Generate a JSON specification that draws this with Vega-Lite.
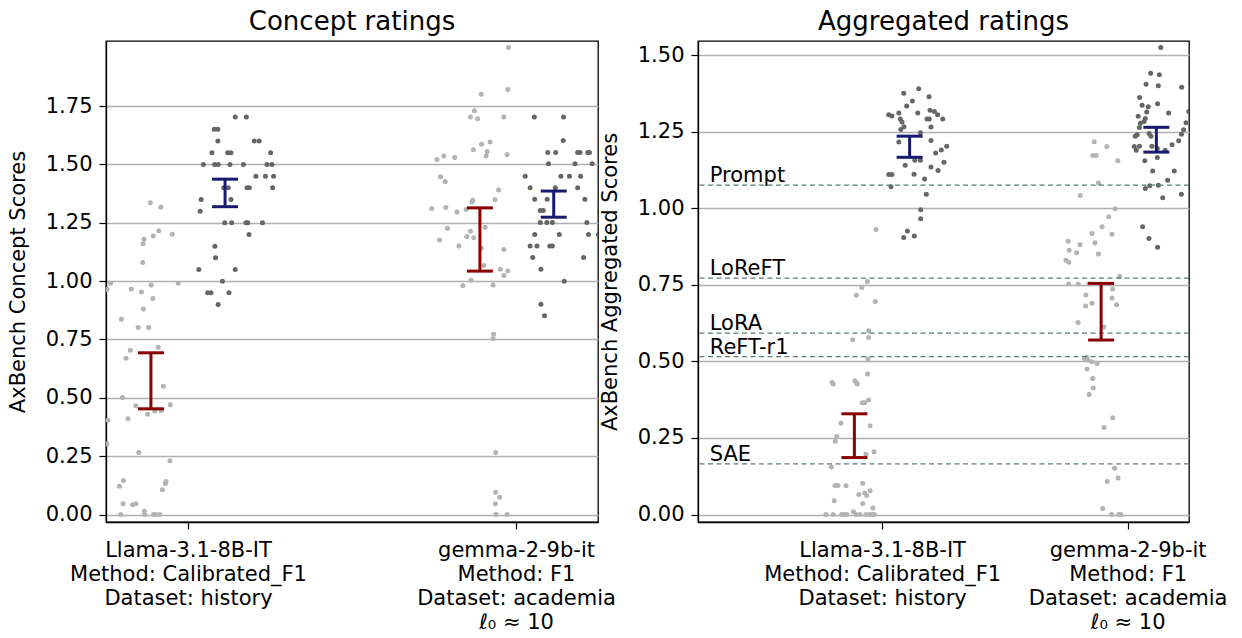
{
  "$schema": "https://vega.github.io/schema/vega-lite/v6.json",
  "padding": {"left": 6, "top": 8, "right": 5, "bottom": 5},
  "spacing": 100,
  "bounds": "flush",
  "config": {
    "font": "DejaVu Sans",
    "view": {"stroke": "black", "strokeWidth": 1.3},
    "title": {"fontSize": 26, "fontWeight": "normal", "color": "black", "anchor": "middle", "offset": 6},
    "axis": {
      "labelFont": "DejaVu Sans", "titleFont": "DejaVu Sans",
      "labelFontSize": 21, "titleFontSize": 21, "titleFontWeight": "normal",
      "labelColor": "black", "titleColor": "black",
      "tickColor": "black", "tickSize": 7, "tickWidth": 1.2,
      "domainColor": "black", "domainWidth": 1.3,
      "labelPadding": 4, "labelLimit": 0
    }
  },
  "datasets": {
    "conceptPts": [
      {"x": -0.115, "y": 1.336, "s": "l"}, {"x": -0.083, "y": 1.317, "s": "l"}, {"x": -0.089, "y": 1.216, "s": "l"}, {"x": -0.106, "y": 1.193, "s": "l"}, {"x": -0.048, "y": 1.201, "s": "l"}, {"x": -0.134, "y": 1.18, "s": "l"}, {"x": -0.137, "y": 1.16, "s": "l"}, {"x": -0.138, "y": 1.08, "s": "l"}, {"x": -0.236, "y": 0.991, "s": "l"}, {"x": -0.247, "y": 0.964, "s": "l"}, {"x": -0.173, "y": 0.966, "s": "l"}, {"x": -0.142, "y": 0.953, "s": "l"}, {"x": -0.112, "y": 0.984, "s": "l"}, {"x": -0.03, "y": 0.991, "s": "l"}, {"x": -0.107, "y": 0.926, "s": "l"}, {"x": -0.136, "y": 0.881, "s": "l"}, {"x": -0.203, "y": 0.837, "s": "l"}, {"x": -0.152, "y": 0.801, "s": "l"}, {"x": -0.12, "y": 0.801, "s": "l"}, {"x": -0.091, "y": 0.717, "s": "l"}, {"x": -0.176, "y": 0.704, "s": "l"}, {"x": -0.189, "y": 0.67, "s": "l"}, {"x": -0.075, "y": 0.55, "s": "l"}, {"x": -0.2, "y": 0.501, "s": "l"}, {"x": -0.159, "y": 0.466, "s": "l"}, {"x": -0.123, "y": 0.43, "s": "l"}, {"x": -0.101, "y": 0.444, "s": "l"}, {"x": -0.082, "y": 0.446, "s": "l"}, {"x": -0.054, "y": 0.47, "s": "l"}, {"x": -0.244, "y": 0.404, "s": "l"}, {"x": -0.183, "y": 0.41, "s": "l"}, {"x": -0.247, "y": 0.303, "s": "l"}, {"x": -0.15, "y": 0.266, "s": "l"}, {"x": -0.055, "y": 0.23, "s": "l"}, {"x": -0.197, "y": 0.146, "s": "l"}, {"x": -0.209, "y": 0.121, "s": "l"}, {"x": -0.067, "y": 0.141, "s": "l"}, {"x": -0.069, "y": 0.133, "s": "l"}, {"x": -0.078, "y": 0.106, "s": "l"}, {"x": -0.198, "y": 0.046, "s": "l"}, {"x": -0.169, "y": 0.042, "s": "l"}, {"x": -0.159, "y": 0.046, "s": "l"}, {"x": -0.205, "y": 0.0, "s": "l"}, {"x": -0.133, "y": 0.014, "s": "l"}, {"x": -0.132, "y": 0.0, "s": "l"}, {"x": -0.105, "y": 0.0, "s": "l"}, {"x": -0.098, "y": 0.0, "s": "l"}, {"x": -0.086, "y": 0.0, "s": "l"},
      {"x": 0.144, "y": 1.703, "s": "d"}, {"x": 0.178, "y": 1.703, "s": "d"}, {"x": 0.08, "y": 1.651, "s": "d"}, {"x": 0.091, "y": 1.651, "s": "d"}, {"x": 0.091, "y": 1.601, "s": "d"}, {"x": 0.202, "y": 1.601, "s": "d"}, {"x": 0.217, "y": 1.601, "s": "d"}, {"x": 0.073, "y": 1.55, "s": "d"}, {"x": 0.121, "y": 1.55, "s": "d"}, {"x": 0.131, "y": 1.55, "s": "d"}, {"x": 0.252, "y": 1.55, "s": "d"}, {"x": 0.047, "y": 1.5, "s": "d"}, {"x": 0.081, "y": 1.5, "s": "d"}, {"x": 0.092, "y": 1.5, "s": "d"}, {"x": 0.128, "y": 1.5, "s": "d"}, {"x": 0.169, "y": 1.5, "s": "d"}, {"x": 0.241, "y": 1.5, "s": "d"}, {"x": 0.256, "y": 1.5, "s": "d"}, {"x": 0.207, "y": 1.45, "s": "d"}, {"x": 0.236, "y": 1.45, "s": "d"}, {"x": 0.261, "y": 1.45, "s": "d"}, {"x": 0.109, "y": 1.4, "s": "d"}, {"x": 0.123, "y": 1.4, "s": "d"}, {"x": 0.18, "y": 1.4, "s": "d"}, {"x": 0.187, "y": 1.4, "s": "d"}, {"x": 0.258, "y": 1.4, "s": "d"}, {"x": 0.04, "y": 1.35, "s": "d"}, {"x": 0.131, "y": 1.35, "s": "d"}, {"x": 0.037, "y": 1.3, "s": "d"}, {"x": 0.112, "y": 1.25, "s": "d"}, {"x": 0.133, "y": 1.25, "s": "d"}, {"x": 0.177, "y": 1.25, "s": "d"}, {"x": 0.182, "y": 1.25, "s": "d"}, {"x": 0.227, "y": 1.25, "s": "d"}, {"x": 0.186, "y": 1.2, "s": "d"}, {"x": 0.082, "y": 1.15, "s": "d"}, {"x": 0.084, "y": 1.1, "s": "d"}, {"x": 0.033, "y": 1.05, "s": "d"}, {"x": 0.144, "y": 1.05, "s": "d"}, {"x": 0.105, "y": 1.0, "s": "d"}, {"x": 0.06, "y": 0.95, "s": "d"}, {"x": 0.07, "y": 0.95, "s": "d"}, {"x": 0.125, "y": 0.95, "s": "d"}, {"x": 0.092, "y": 0.9, "s": "d"},
      {"x": 0.977, "y": 2.001, "s": "l"}, {"x": 0.975, "y": 1.821, "s": "l"}, {"x": 0.894, "y": 1.801, "s": "l"}, {"x": 0.873, "y": 1.73, "s": "l"}, {"x": 0.861, "y": 1.703, "s": "l"}, {"x": 0.883, "y": 1.696, "s": "l"}, {"x": 0.963, "y": 1.703, "s": "l"}, {"x": 0.895, "y": 1.587, "s": "l"}, {"x": 0.921, "y": 1.596, "s": "l"}, {"x": 0.87, "y": 1.563, "s": "l"}, {"x": 0.912, "y": 1.556, "s": "l"}, {"x": 0.909, "y": 1.536, "s": "l"}, {"x": 0.973, "y": 1.543, "s": "l"}, {"x": 0.759, "y": 1.521, "s": "l"}, {"x": 0.78, "y": 1.536, "s": "l"}, {"x": 0.813, "y": 1.53, "s": "l"}, {"x": 0.77, "y": 1.447, "s": "l"}, {"x": 0.784, "y": 1.427, "s": "l"}, {"x": 0.947, "y": 1.391, "s": "l"}, {"x": 0.936, "y": 1.35, "s": "l"}, {"x": 0.868, "y": 1.347, "s": "l"}, {"x": 0.865, "y": 1.339, "s": "l"}, {"x": 0.743, "y": 1.311, "s": "l"}, {"x": 0.786, "y": 1.316, "s": "l"}, {"x": 0.82, "y": 1.296, "s": "l"}, {"x": 0.848, "y": 1.307, "s": "l"}, {"x": 0.906, "y": 1.231, "s": "l"}, {"x": 0.791, "y": 1.227, "s": "l"}, {"x": 0.861, "y": 1.214, "s": "l"}, {"x": 0.767, "y": 1.176, "s": "l"}, {"x": 0.85, "y": 1.191, "s": "l"}, {"x": 0.871, "y": 1.186, "s": "l"}, {"x": 0.826, "y": 1.151, "s": "l"}, {"x": 0.894, "y": 1.141, "s": "l"}, {"x": 0.963, "y": 1.136, "s": "l"}, {"x": 0.902, "y": 1.067, "s": "l"}, {"x": 0.952, "y": 1.051, "s": "l"}, {"x": 0.975, "y": 1.044, "s": "l"}, {"x": 0.963, "y": 1.024, "s": "l"}, {"x": 0.863, "y": 1.004, "s": "l"}, {"x": 0.838, "y": 0.98, "s": "l"}, {"x": 0.93, "y": 0.984, "s": "l"}, {"x": 0.932, "y": 0.773, "s": "l"}, {"x": 0.93, "y": 0.753, "s": "l"}, {"x": 0.938, "y": 0.266, "s": "l"}, {"x": 0.938, "y": 0.096, "s": "l"}, {"x": 0.95, "y": 0.074, "s": "l"}, {"x": 0.937, "y": 0.046, "s": "l"}, {"x": 0.939, "y": 0.0, "s": "l"}, {"x": 0.973, "y": 0.0, "s": "l"},
      {"x": 1.056, "y": 1.703, "s": "d"}, {"x": 1.145, "y": 1.703, "s": "d"}, {"x": 1.144, "y": 1.603, "s": "d"}, {"x": 1.097, "y": 1.551, "s": "d"}, {"x": 1.121, "y": 1.551, "s": "d"}, {"x": 1.188, "y": 1.551, "s": "d"}, {"x": 1.195, "y": 1.551, "s": "d"}, {"x": 1.219, "y": 1.551, "s": "d"}, {"x": 1.224, "y": 1.551, "s": "d"}, {"x": 1.099, "y": 1.503, "s": "d"}, {"x": 1.18, "y": 1.503, "s": "d"}, {"x": 1.232, "y": 1.503, "s": "d"}, {"x": 1.028, "y": 1.45, "s": "d"}, {"x": 1.137, "y": 1.45, "s": "d"}, {"x": 1.163, "y": 1.45, "s": "d"}, {"x": 1.197, "y": 1.45, "s": "d"}, {"x": 1.043, "y": 1.4, "s": "d"}, {"x": 1.12, "y": 1.4, "s": "d"}, {"x": 1.188, "y": 1.4, "s": "d"}, {"x": 1.057, "y": 1.351, "s": "d"}, {"x": 1.095, "y": 1.351, "s": "d"}, {"x": 1.21, "y": 1.351, "s": "d"}, {"x": 1.074, "y": 1.303, "s": "d"}, {"x": 1.083, "y": 1.303, "s": "d"}, {"x": 1.255, "y": 1.3, "s": "d"}, {"x": 1.074, "y": 1.251, "s": "d"}, {"x": 1.094, "y": 1.251, "s": "d"}, {"x": 1.111, "y": 1.251, "s": "d"}, {"x": 1.216, "y": 1.251, "s": "d"}, {"x": 1.057, "y": 1.2, "s": "d"}, {"x": 1.132, "y": 1.2, "s": "d"}, {"x": 1.221, "y": 1.2, "s": "d"}, {"x": 1.251, "y": 1.2, "s": "d"}, {"x": 1.043, "y": 1.151, "s": "d"}, {"x": 1.064, "y": 1.151, "s": "d"}, {"x": 1.103, "y": 1.151, "s": "d"}, {"x": 1.111, "y": 1.151, "s": "d"}, {"x": 1.051, "y": 1.101, "s": "d"}, {"x": 1.206, "y": 1.101, "s": "d"}, {"x": 1.076, "y": 1.051, "s": "d"}, {"x": 1.147, "y": 1.0, "s": "d"}, {"x": 1.076, "y": 0.901, "s": "d"}, {"x": 1.087, "y": 0.852, "s": "d"}
    ],
    "aggPts": [
      {"x": -0.025, "y": 0.931, "s": "l"}, {"x": -0.06, "y": 0.761, "s": "l"}, {"x": -0.083, "y": 0.742, "s": "l"}, {"x": -0.105, "y": 0.716, "s": "l"}, {"x": -0.028, "y": 0.696, "s": "l"}, {"x": -0.055, "y": 0.6, "s": "l"}, {"x": -0.055, "y": 0.578, "s": "l"}, {"x": -0.12, "y": 0.571, "s": "l"}, {"x": -0.058, "y": 0.508, "s": "l"}, {"x": -0.059, "y": 0.459, "s": "l"}, {"x": -0.204, "y": 0.431, "s": "l"}, {"x": -0.199, "y": 0.426, "s": "l"}, {"x": -0.111, "y": 0.437, "s": "l"}, {"x": -0.104, "y": 0.43, "s": "l"}, {"x": -0.101, "y": 0.426, "s": "l"}, {"x": -0.081, "y": 0.365, "s": "l"}, {"x": -0.071, "y": 0.365, "s": "l"}, {"x": -0.055, "y": 0.374, "s": "l"}, {"x": -0.168, "y": 0.298, "s": "l"}, {"x": -0.049, "y": 0.29, "s": "l"}, {"x": -0.185, "y": 0.255, "s": "l"}, {"x": -0.191, "y": 0.239, "s": "l"}, {"x": -0.066, "y": 0.197, "s": "l"}, {"x": -0.033, "y": 0.205, "s": "l"}, {"x": -0.207, "y": 0.155, "s": "l"}, {"x": -0.192, "y": 0.095, "s": "l"}, {"x": -0.18, "y": 0.095, "s": "l"}, {"x": -0.147, "y": 0.094, "s": "l"}, {"x": -0.079, "y": 0.102, "s": "l"}, {"x": -0.095, "y": 0.065, "s": "l"}, {"x": -0.071, "y": 0.07, "s": "l"}, {"x": -0.063, "y": 0.062, "s": "l"}, {"x": -0.049, "y": 0.078, "s": "l"}, {"x": -0.195, "y": 0.045, "s": "l"}, {"x": -0.079, "y": 0.036, "s": "l"}, {"x": -0.038, "y": 0.021, "s": "l"}, {"x": -0.229, "y": 0.0, "s": "l"}, {"x": -0.199, "y": 0.0, "s": "l"}, {"x": -0.165, "y": 0.0, "s": "l"}, {"x": -0.154, "y": 0.0, "s": "l"}, {"x": -0.144, "y": 0.0, "s": "l"}, {"x": -0.117, "y": 0.009, "s": "l"}, {"x": -0.106, "y": 0.0, "s": "l"}, {"x": -0.09, "y": 0.0, "s": "l"}, {"x": -0.066, "y": 0.0, "s": "l"}, {"x": -0.052, "y": 0.0, "s": "l"}, {"x": -0.041, "y": 0.0, "s": "l"}, {"x": -0.032, "y": 0.0, "s": "l"},
      {"x": 0.149, "y": 1.391, "s": "d"}, {"x": 0.088, "y": 1.376, "s": "d"}, {"x": 0.191, "y": 1.365, "s": "d"}, {"x": 0.123, "y": 1.351, "s": "d"}, {"x": 0.1, "y": 1.335, "s": "d"}, {"x": 0.027, "y": 1.306, "s": "d"}, {"x": 0.04, "y": 1.302, "s": "d"}, {"x": 0.068, "y": 1.312, "s": "d"}, {"x": 0.145, "y": 1.312, "s": "d"}, {"x": 0.195, "y": 1.321, "s": "d"}, {"x": 0.213, "y": 1.317, "s": "d"}, {"x": 0.226, "y": 1.306, "s": "d"}, {"x": 0.247, "y": 1.292, "s": "d"}, {"x": 0.074, "y": 1.292, "s": "d"}, {"x": 0.192, "y": 1.292, "s": "d"}, {"x": 0.183, "y": 1.292, "s": "d"}, {"x": 0.081, "y": 1.282, "s": "d"}, {"x": 0.089, "y": 1.267, "s": "d"}, {"x": 0.076, "y": 1.258, "s": "d"}, {"x": 0.199, "y": 1.266, "s": "d"}, {"x": 0.156, "y": 1.247, "s": "d"}, {"x": 0.068, "y": 1.217, "s": "d"}, {"x": 0.199, "y": 1.222, "s": "d"}, {"x": 0.263, "y": 1.203, "s": "d"}, {"x": 0.241, "y": 1.191, "s": "d"}, {"x": 0.218, "y": 1.181, "s": "d"}, {"x": 0.133, "y": 1.157, "s": "d"}, {"x": 0.156, "y": 1.157, "s": "d"}, {"x": 0.252, "y": 1.151, "s": "d"}, {"x": 0.094, "y": 1.141, "s": "d"}, {"x": 0.199, "y": 1.135, "s": "d"}, {"x": 0.228, "y": 1.124, "s": "d"}, {"x": 0.027, "y": 1.111, "s": "d"}, {"x": 0.04, "y": 1.111, "s": "d"}, {"x": 0.13, "y": 1.112, "s": "d"}, {"x": 0.173, "y": 1.096, "s": "d"}, {"x": 0.036, "y": 1.071, "s": "d"}, {"x": 0.18, "y": 1.046, "s": "d"}, {"x": 0.157, "y": 0.996, "s": "d"}, {"x": 0.157, "y": 0.966, "s": "d"}, {"x": 0.103, "y": 0.926, "s": "d"}, {"x": 0.088, "y": 0.905, "s": "d"}, {"x": 0.131, "y": 0.91, "s": "d"},
      {"x": 0.864, "y": 1.218, "s": "l"}, {"x": 0.915, "y": 1.202, "s": "l"}, {"x": 0.858, "y": 1.173, "s": "l"}, {"x": 0.872, "y": 1.173, "s": "l"}, {"x": 0.96, "y": 1.156, "s": "l"}, {"x": 0.881, "y": 1.083, "s": "l"}, {"x": 0.807, "y": 1.042, "s": "l"}, {"x": 0.949, "y": 0.999, "s": "l"}, {"x": 0.923, "y": 0.973, "s": "l"}, {"x": 0.896, "y": 0.94, "s": "l"}, {"x": 0.936, "y": 0.916, "s": "l"}, {"x": 0.855, "y": 0.918, "s": "l"}, {"x": 0.867, "y": 0.888, "s": "l"}, {"x": 0.758, "y": 0.893, "s": "l"}, {"x": 0.806, "y": 0.881, "s": "l"}, {"x": 0.762, "y": 0.863, "s": "l"}, {"x": 0.792, "y": 0.855, "s": "l"}, {"x": 0.881, "y": 0.851, "s": "l"}, {"x": 0.749, "y": 0.831, "s": "l"}, {"x": 0.76, "y": 0.824, "s": "l"}, {"x": 0.968, "y": 0.778, "s": "l"}, {"x": 0.76, "y": 0.753, "s": "l"}, {"x": 0.799, "y": 0.753, "s": "l"}, {"x": 0.841, "y": 0.753, "s": "l"}, {"x": 0.83, "y": 0.717, "s": "l"}, {"x": 0.855, "y": 0.69, "s": "l"}, {"x": 0.829, "y": 0.681, "s": "l"}, {"x": 0.939, "y": 0.737, "s": "l"}, {"x": 0.936, "y": 0.707, "s": "l"}, {"x": 0.955, "y": 0.685, "s": "l"}, {"x": 0.798, "y": 0.627, "s": "l"}, {"x": 0.903, "y": 0.613, "s": "l"}, {"x": 0.824, "y": 0.51, "s": "l"}, {"x": 0.833, "y": 0.514, "s": "l"}, {"x": 0.839, "y": 0.504, "s": "l"}, {"x": 0.854, "y": 0.499, "s": "l"}, {"x": 0.875, "y": 0.493, "s": "l"}, {"x": 0.835, "y": 0.475, "s": "l"}, {"x": 0.858, "y": 0.444, "s": "l"}, {"x": 0.86, "y": 0.413, "s": "l"}, {"x": 0.843, "y": 0.392, "s": "l"}, {"x": 0.939, "y": 0.316, "s": "l"}, {"x": 0.904, "y": 0.284, "s": "l"}, {"x": 0.947, "y": 0.151, "s": "l"}, {"x": 0.961, "y": 0.119, "s": "l"}, {"x": 0.917, "y": 0.108, "s": "l"}, {"x": 0.898, "y": 0.02, "s": "l"}, {"x": 0.935, "y": 0.0, "s": "l"}, {"x": 0.964, "y": 0.0, "s": "l"}, {"x": 0.972, "y": 0.0, "s": "l"},
      {"x": 1.135, "y": 1.526, "s": "d"}, {"x": 1.094, "y": 1.442, "s": "d"}, {"x": 1.129, "y": 1.437, "s": "d"}, {"x": 1.075, "y": 1.406, "s": "d"}, {"x": 1.125, "y": 1.401, "s": "d"}, {"x": 1.22, "y": 1.396, "s": "d"}, {"x": 1.049, "y": 1.362, "s": "d"}, {"x": 1.059, "y": 1.337, "s": "d"}, {"x": 1.084, "y": 1.332, "s": "d"}, {"x": 1.122, "y": 1.342, "s": "d"}, {"x": 1.078, "y": 1.315, "s": "d"}, {"x": 1.167, "y": 1.312, "s": "d"}, {"x": 1.043, "y": 1.301, "s": "d"}, {"x": 1.072, "y": 1.294, "s": "d"}, {"x": 1.249, "y": 1.317, "s": "d"}, {"x": 1.067, "y": 1.284, "s": "d"}, {"x": 1.052, "y": 1.278, "s": "d"}, {"x": 1.048, "y": 1.264, "s": "d"}, {"x": 1.238, "y": 1.28, "s": "d"}, {"x": 1.228, "y": 1.257, "s": "d"}, {"x": 1.219, "y": 1.242, "s": "d"}, {"x": 1.031, "y": 1.236, "s": "d"}, {"x": 1.039, "y": 1.241, "s": "d"}, {"x": 1.088, "y": 1.245, "s": "d"}, {"x": 1.095, "y": 1.236, "s": "d"}, {"x": 1.208, "y": 1.221, "s": "d"}, {"x": 1.181, "y": 1.208, "s": "d"}, {"x": 1.027, "y": 1.202, "s": "d"}, {"x": 1.048, "y": 1.203, "s": "d"}, {"x": 1.035, "y": 1.19, "s": "d"}, {"x": 1.099, "y": 1.203, "s": "d"}, {"x": 1.121, "y": 1.196, "s": "d"}, {"x": 1.153, "y": 1.19, "s": "d"}, {"x": 1.07, "y": 1.156, "s": "d"}, {"x": 1.121, "y": 1.166, "s": "d"}, {"x": 1.102, "y": 1.122, "s": "d"}, {"x": 1.19, "y": 1.122, "s": "d"}, {"x": 1.163, "y": 1.092, "s": "d"}, {"x": 1.125, "y": 1.076, "s": "d"}, {"x": 1.09, "y": 1.074, "s": "d"}, {"x": 1.072, "y": 1.065, "s": "d"}, {"x": 1.219, "y": 1.046, "s": "d"}, {"x": 1.143, "y": 1.035, "s": "d"}, {"x": 1.061, "y": 0.94, "s": "d"}, {"x": 1.087, "y": 0.902, "s": "d"}, {"x": 1.122, "y": 0.873, "s": "d"}
    ],
    "conceptBars": [
      {"x": -0.113, "lo": 0.453, "hi": 0.693, "s": "r"},
      {"x": 0.113, "lo": 1.319, "hi": 1.437, "s": "b"},
      {"x": 0.89, "lo": 1.043, "hi": 1.314, "s": "r"},
      {"x": 1.115, "lo": 1.274, "hi": 1.386, "s": "b"}
    ],
    "aggBars": [
      {"x": -0.113, "lo": 0.186, "hi": 0.329, "s": "r"},
      {"x": 0.112, "lo": 1.167, "hi": 1.236, "s": "b"},
      {"x": 0.892, "lo": 0.57, "hi": 0.755, "s": "r"},
      {"x": 1.117, "lo": 1.184, "hi": 1.265, "s": "b"}
    ],
    "baselines": [
      {"method": "Prompt", "y": 1.076},
      {"method": "LoReFT", "y": 0.772},
      {"method": "LoRA", "y": 0.5925},
      {"method": "ReFT-r1", "y": 0.516},
      {"method": "SAE", "y": 0.1656}
    ]
  },
  "hconcat": [
    {
      "width": 492,
      "height": 481,
      "title": "Concept ratings",
      "layer": [
        {
          "data": {"name": "conceptPts"},
          "mark": {"type": "circle", "size": 25, "opacity": 1, "clip": true},
          "encoding": {
            "x": {"field": "x", "type": "quantitative", "scale": {"domain": [-0.25, 1.25], "nice": false, "zero": false},
              "axis": {"title": null, "values": [0, 1], "grid": false, "labelFlush": false, "labelLineHeight": 24, "labelPadding": 10,
                "labelExpr": "datum.value == 0 ? ['Llama-3.1-8B-IT', 'Method: Calibrated_F1', 'Dataset: history'] : ['gemma-2-9b-it', 'Method: F1', 'Dataset: academia', 'ℓ₀ ≈ 10']"}},
            "y": {"field": "y", "type": "quantitative", "scale": {"domain": [-0.032, 2.029], "nice": false, "zero": false},
              "axis": {"title": "AxBench Concept Scores", "values": [0, 0.25, 0.5, 0.75, 1, 1.25, 1.5, 1.75], "format": ".2f", "grid": true, "gridColor": "#b0b0b0", "gridWidth": 1.4, "labelPadding": 7, "titlePadding": 17}},
            "color": {"field": "s", "type": "nominal", "scale": {"domain": ["l", "d", "r", "b"], "range": ["#b3b3b3", "#666666", "#8b0000", "#191970"]}, "legend": null}
          }
        },
        {
          "data": {"name": "conceptBars"},
          "mark": {"type": "rule", "strokeWidth": 3, "opacity": 1},
          "encoding": {
            "x": {"field": "x", "type": "quantitative"},
            "y": {"field": "lo", "type": "quantitative"},
            "y2": {"field": "hi"},
            "color": {"field": "s", "type": "nominal", "legend": null}
          }
        },
        {
          "data": {"name": "conceptBars"},
          "mark": {"type": "tick", "orient": "horizontal", "size": 26, "thickness": 3, "opacity": 1},
          "encoding": {
            "x": {"field": "x", "type": "quantitative"},
            "y": {"field": "lo", "type": "quantitative"},
            "color": {"field": "s", "type": "nominal", "legend": null}
          }
        },
        {
          "data": {"name": "conceptBars"},
          "mark": {"type": "tick", "orient": "horizontal", "size": 26, "thickness": 3, "opacity": 1},
          "encoding": {
            "x": {"field": "x", "type": "quantitative"},
            "y": {"field": "hi", "type": "quantitative"},
            "color": {"field": "s", "type": "nominal", "legend": null}
          }
        }
      ]
    },
    {
      "width": 491,
      "height": 481,
      "title": "Aggregated ratings",
      "layer": [
        {
          "data": {"name": "aggPts"},
          "mark": {"type": "circle", "size": 25, "opacity": 1, "clip": true},
          "encoding": {
            "x": {"field": "x", "type": "quantitative", "scale": {"domain": [-0.75, 1.25], "nice": false, "zero": false},
              "axis": {"title": null, "values": [0, 1], "grid": false, "labelFlush": false, "labelLineHeight": 24, "labelPadding": 10,
                "labelExpr": "datum.value == 0 ? ['Llama-3.1-8B-IT', 'Method: Calibrated_F1', 'Dataset: history'] : ['gemma-2-9b-it', 'Method: F1', 'Dataset: academia', 'ℓ₀ ≈ 10']"}},
            "y": {"field": "y", "type": "quantitative", "scale": {"domain": [-0.0245, 1.547], "nice": false, "zero": false},
              "axis": {"title": "AxBench Aggregated Scores", "values": [0, 0.25, 0.5, 0.75, 1, 1.25, 1.5], "format": ".2f", "grid": true, "gridColor": "#b0b0b0", "gridWidth": 1.4, "labelPadding": 7, "titlePadding": 17}},
            "color": {"field": "s", "type": "nominal", "scale": {"domain": ["l", "d", "r", "b"], "range": ["#b3b3b3", "#666666", "#8b0000", "#191970"]}, "legend": null}
          }
        },
        {
          "data": {"name": "baselines"},
          "mark": {"type": "rule", "color": "#5b7b7b", "strokeWidth": 1.2, "strokeDash": [5, 3.5], "opacity": 1},
          "encoding": {
            "y": {"field": "y", "type": "quantitative"}
          }
        },
        {
          "data": {"name": "baselines"},
          "mark": {"type": "text", "align": "left", "baseline": "alphabetic", "dy": -3, "fontSize": 21, "color": "black", "font": "DejaVu Sans"},
          "encoding": {
            "x": {"datum": -0.702, "type": "quantitative"},
            "y": {"field": "y", "type": "quantitative"},
            "text": {"field": "method", "type": "nominal"}
          }
        },
        {
          "data": {"name": "aggBars"},
          "mark": {"type": "rule", "strokeWidth": 3, "opacity": 1},
          "encoding": {
            "x": {"field": "x", "type": "quantitative"},
            "y": {"field": "lo", "type": "quantitative"},
            "y2": {"field": "hi"},
            "color": {"field": "s", "type": "nominal", "legend": null}
          }
        },
        {
          "data": {"name": "aggBars"},
          "mark": {"type": "tick", "orient": "horizontal", "size": 26, "thickness": 3, "opacity": 1},
          "encoding": {
            "x": {"field": "x", "type": "quantitative"},
            "y": {"field": "lo", "type": "quantitative"},
            "color": {"field": "s", "type": "nominal", "legend": null}
          }
        },
        {
          "data": {"name": "aggBars"},
          "mark": {"type": "tick", "orient": "horizontal", "size": 26, "thickness": 3, "opacity": 1},
          "encoding": {
            "x": {"field": "x", "type": "quantitative"},
            "y": {"field": "hi", "type": "quantitative"},
            "color": {"field": "s", "type": "nominal", "legend": null}
          }
        }
      ]
    }
  ]
}
